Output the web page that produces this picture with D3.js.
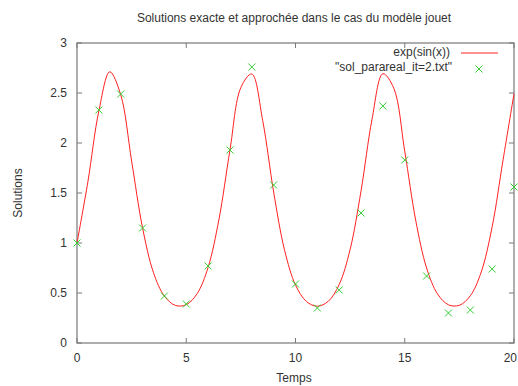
<!DOCTYPE html>
<html>
<head>
<meta charset="utf-8">
<script src="https://cdn.jsdelivr.net/npm/d3@7"></script>
<style>
  body { margin: 0; background: #fff; }
  text { font-family: "Liberation Sans", Arial, sans-serif; }
</style>
</head>
<body>
<svg id="chart" width="518" height="386"></svg>
<script>
// exact solution exp(sin(x)), sampled every 0.5
const curveX = d3.range(0, 20.01, 0.5);
const curveY = [1.000, 1.615, 2.320, 2.712, 2.483, 1.819, 1.152, 0.704, 0.469, 0.376,
  0.383, 0.494, 0.756, 1.240, 1.929, 2.555, 2.690, 2.222, 1.510, 0.928,
  0.580, 0.415, 0.368, 0.417, 0.585, 0.936, 1.522, 2.234, 2.693, 2.547,
  1.916, 1.229, 0.750, 0.491, 0.382, 0.377, 0.472, 0.710, 1.162, 1.832, 2.492];

// parareal iterate 2, one point per time step
const pointX = d3.range(0, 21);
const pointY = [1.00, 2.33, 2.49, 1.15, 0.47, 0.39, 0.77, 1.93, 2.76, 1.58,
  0.59, 0.35, 0.53, 1.30, 2.37, 1.83, 0.67, 0.30, 0.33, 0.74, 1.56];

const xTicks = [0, 5, 10, 15, 20];
const yTicks = [0, 0.5, 1, 1.5, 2, 2.5, 3];

const margin = { top: 43, right: 4, bottom: 43, left: 77 };
const width = 518, height = 386;

const svg = d3.select('#chart');

const x = d3.scaleLinear().domain([0, 20]).range([margin.left, width - margin.right]);
const y = d3.scaleLinear().domain([0, 3]).range([height - margin.bottom, margin.top]);

const border = '#787878';
const textCol = '#333';
const tickLen = 5;

// ticks inward on all four sides
const g = svg.append('g');
xTicks.forEach((t, i) => {
  g.append('line').attr('x1', x(t)).attr('x2', x(t))
    .attr('y1', y(0)).attr('y2', y(0) - tickLen).attr('stroke', border);
  g.append('line').attr('x1', x(t)).attr('x2', x(t))
    .attr('y1', y(3)).attr('y2', y(3) + tickLen).attr('stroke', border);
  const last = i === xTicks.length - 1;
  g.append('text').attr('x', last ? width - 1 : x(t)).attr('y', y(0) + 19)
    .attr('text-anchor', last ? 'end' : 'middle').attr('font-size', 12).attr('fill', textCol)
    .text(t);
});
yTicks.forEach(t => {
  g.append('line').attr('x1', x(0)).attr('x2', x(0) + tickLen)
    .attr('y1', y(t)).attr('y2', y(t)).attr('stroke', border);
  g.append('line').attr('x1', x(20)).attr('x2', x(20) - tickLen)
    .attr('y1', y(t)).attr('y2', y(t)).attr('stroke', border);
  g.append('text').attr('x', x(0) - 10).attr('y', y(t) + 4)
    .attr('text-anchor', 'end').attr('font-size', 12).attr('fill', textCol)
    .text(t);
});

svg.append('rect')
  .attr('x', x(0)).attr('y', y(3))
  .attr('width', x(20) - x(0)).attr('height', y(0) - y(3))
  .attr('fill', 'none').attr('stroke', border).attr('stroke-width', 1.2);

// curve
const line = d3.line()
  .x((d, i) => x(curveX[i]))
  .y(d => y(d))
  .curve(d3.curveCatmullRom);

svg.append('path')
  .datum(curveY)
  .attr('d', line)
  .attr('fill', 'none')
  .attr('stroke', '#ff2020')
  .attr('stroke-width', 1);

// crosses
const cross = (sel, cx, cy) => {
  const s = 3.5;
  sel.append('path')
    .attr('d', `M${cx - s},${cy - s}L${cx + s},${cy + s}M${cx - s},${cy + s}L${cx + s},${cy - s}`)
    .attr('stroke', '#33cc33').attr('stroke-width', 1).attr('fill', 'none');
};
const pts = svg.append('g');
pointY.forEach((v, i) => cross(pts, x(pointX[i]), y(v)));

// legend
svg.append('text').attr('x', 450).attr('y', 56)
  .attr('text-anchor', 'end').attr('font-size', 12).attr('fill', textCol)
  .text('exp(sin(x))');
svg.append('line').attr('x1', 461).attr('x2', 498).attr('y1', 53).attr('y2', 53)
  .attr('stroke', '#ff2020');
svg.append('text').attr('x', 452).attr('y', 71)
  .attr('text-anchor', 'end').attr('font-size', 12).attr('fill', textCol)
  .text('"sol_parareal_it=2.txt"');
cross(svg, 479, 69);

// title and axis labels
svg.append('text').attr('x', 294).attr('y', 22)
  .attr('text-anchor', 'middle').attr('font-size', 12).attr('fill', textCol)
  .text('Solutions exacte et approchée dans le cas du modèle jouet');
svg.append('text').attr('x', 294).attr('y', 382)
  .attr('text-anchor', 'middle').attr('font-size', 12).attr('fill', textCol)
  .text('Temps');
svg.append('text')
  .attr('transform', 'translate(22,193) rotate(-90)')
  .attr('text-anchor', 'middle').attr('font-size', 12).attr('fill', textCol)
  .text('Solutions');
</script>
</body>
</html>
